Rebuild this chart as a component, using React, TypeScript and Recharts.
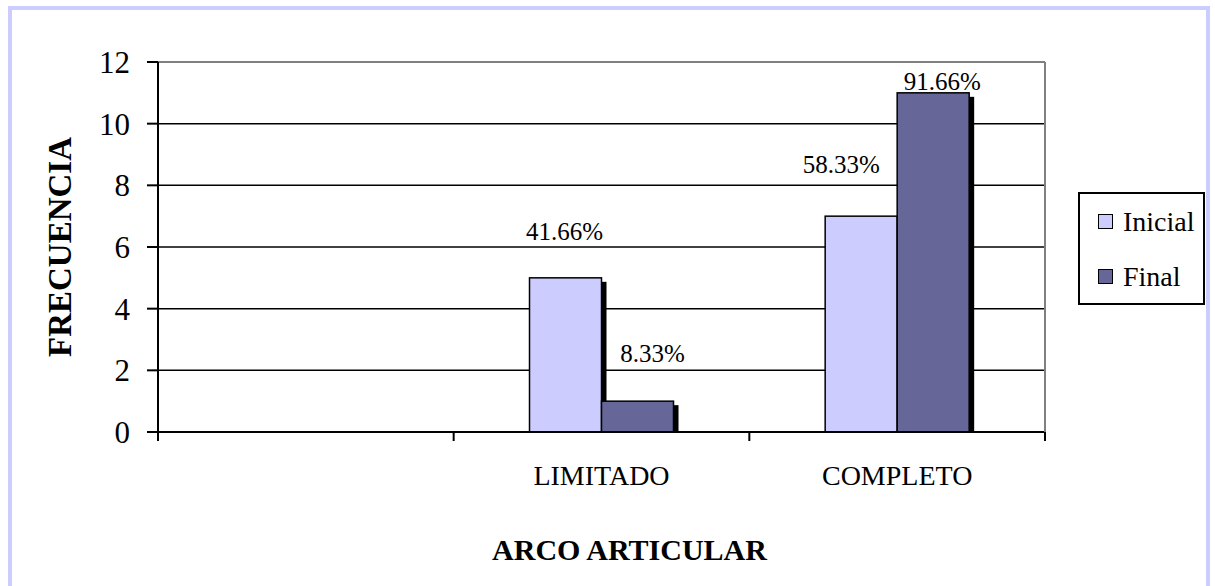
import React from "react";
import {
  BarChart,
  Bar,
  XAxis,
  YAxis,
  CartesianGrid,
  Legend,
  LabelList,
  ReferenceLine,
} from "recharts";

// Arco articular: frecuencia inicial y final
const categorias = ["", "LIMITADO", "COMPLETO"];
const series = ["Inicial", "Final"];
const inicial = [null, 5, 7];
const final = [null, 1, 11];
const porcentajeInicial = ["", "41.66%", "58.33%"];
const porcentajeFinal = ["", "8.33%", "91.66%"];
const ticksY = [0, 2, 4, 6, 8, 10, 12];

const data = categorias.map((arco, i) => ({
  arco,
  Inicial: inicial[i],
  Final: final[i],
  pctInicial: porcentajeInicial[i],
  pctFinal: porcentajeFinal[i],
}));

const FUENTE = "'Liberation Serif', 'Times New Roman', serif";
const ANCHO = 1215;
const ALTO = 586;
const MARGEN = { top: 62, right: 169, bottom: 0, left: 0 };
const ANCHO_EJE_Y = 158;
const ALTO_EJE_X = 154;
// ancho de cada categoría en el área de trazado
const BANDA = (ANCHO - MARGEN.right - 1 - MARGEN.left - ANCHO_EJE_Y) / categorias.length;

// desplazamiento de cada etiqueta respecto al centro superior de su barra
const ajusteInicial = [null, { dx: -1, dy: -38 }, { dx: -20, dy: -43 }];
const ajusteFinal = [null, { dx: 15, dy: -39 }, { dx: 9, dy: -3 }];

// barra con sombra negra desplazada
const BarraSombra = (props: any) => {
  const { x, y, width, height, fill } = props;
  if (!height || height <= 0) return <g />;
  return (
    <g>
      <rect x={x + 5} y={y + 4} width={width} height={height - 4} fill="#000" />
      <rect x={x} y={y} width={width} height={height} fill={fill} stroke="#000" strokeWidth={1.5} />
    </g>
  );
};

const etiquetaPct = (textos: string[], ajustes: any[]) => (props: any) => {
  const { x, y, width, value } = props;
  const a = ajustes[textos.indexOf(value)];
  if (!value || !a) return null;
  return (
    <text
      x={x + width / 2 + a.dx}
      y={y + a.dy}
      textAnchor="middle"
      fontSize={25}
      fontFamily={FUENTE}
      fill="#000"
    >
      {value}
    </text>
  );
};

const TickCategoria = (props: any) => {
  const { x, y, payload, index } = props;
  return (
    <g>
      {index === 0 && (
        <line x1={x - BANDA / 2} x2={x - BANDA / 2} y1={y} y2={y + 9} stroke="#000" strokeWidth={2} />
      )}
      <line x1={x + BANDA / 2} x2={x + BANDA / 2} y1={y} y2={y + 9} stroke="#000" strokeWidth={2} />
      <text x={x} y={y + 53} textAnchor="middle" fontSize={28} fontFamily={FUENTE} fill="#000">
        {payload.value}
      </text>
    </g>
  );
};

const TituloY = (props: any) => {
  const vb = props.viewBox || { x: 0, y: 62, width: 158, height: 370 };
  const cx = vb.x + 60;
  const cy = vb.y + vb.height / 2;
  return (
    <text
      x={cx}
      y={cy}
      transform={`rotate(-90, ${cx}, ${cy})`}
      textAnchor="middle"
      dominantBaseline="central"
      fontSize={33}
      fontWeight="bold"
      fontFamily={FUENTE}
      fill="#000"
    >
      FRECUENCIA
    </text>
  );
};

const TituloX = (props: any) => {
  const vb = props.viewBox || { x: 158, y: 432, width: 887, height: 154 };
  return (
    <text
      x={vb.x + vb.width / 2 + 28}
      y={vb.y + 128}
      textAnchor="middle"
      fontSize={30}
      fontWeight="bold"
      fontFamily={FUENTE}
      fill="#000"
    >
      ARCO ARTICULAR
    </text>
  );
};

const Leyenda = (props: any) => {
  const items = [...(props.payload || [])].sort(
    (a: any, b: any) => series.indexOf(a.value) - series.indexOf(b.value)
  );
  return (
    <div
      style={{
        boxSizing: "border-box",
        width: 127,
        height: 113,
        border: "2px solid #000",
        background: "#fff",
      }}
    >
      {items.map((item: any) => (
        <div
          key={item.value}
          style={{ display: "flex", alignItems: "center", height: 55, paddingLeft: 18 }}
        >
          <span
            style={{
              display: "inline-block",
              boxSizing: "border-box",
              width: 15,
              height: 15,
              border: "1.5px solid #000",
              background: item.color,
              marginRight: 10,
            }}
          />
          <span style={{ fontSize: 28, fontFamily: FUENTE, lineHeight: 1, color: "#000" }}>
            {item.value}
          </span>
        </div>
      ))}
    </div>
  );
};

export default function App() {
  return (
    <div style={{ position: "absolute", left: 0, top: 0, width: ANCHO, height: ALTO, background: "#fff" }}>
      <div
        style={{
          position: "absolute",
          left: 8,
          top: 6,
          width: 1202,
          height: 580,
          boxSizing: "border-box",
          border: "4px solid #ccccff",
          borderBottom: "none",
        }}
      />
      <div style={{ position: "absolute", left: 0, top: 0 }}>
        <BarChart
          width={ANCHO}
          height={ALTO}
          data={data}
          margin={MARGEN}
          barCategoryGap="25.65%"
          barGap={0}
        >
          <CartesianGrid horizontal vertical={false} stroke="#000" strokeWidth={1.5} />
          <XAxis
            dataKey="arco"
            height={ALTO_EJE_X}
            interval={0}
            tickSize={0}
            tickMargin={0}
            tickLine={false}
            axisLine={{ stroke: "#000", strokeWidth: 2 }}
            tick={<TickCategoria />}
            label={(p: any) => <TituloX {...p} />}
          />
          <YAxis
            width={ANCHO_EJE_Y}
            domain={[0, 12]}
            ticks={ticksY}
            interval={0}
            tickSize={11}
            tickMargin={17}
            tickLine={{ stroke: "#000", strokeWidth: 2 }}
            axisLine={{ stroke: "#000", strokeWidth: 2 }}
            tick={{ fill: "#000", fontSize: 31, fontFamily: FUENTE }}
            label={(p: any) => <TituloY {...p} />}
          />
          <YAxis
            yAxisId="borde"
            orientation="right"
            width={1}
            domain={[0, 12]}
            tick={false}
            tickLine={false}
            axisLine={{ stroke: "#808080", strokeWidth: 2 }}
          />
          <ReferenceLine y={12} stroke="#808080" strokeWidth={2} />
          <Legend
            layout="horizontal"
            verticalAlign="middle"
            content={(p: any) => <Leyenda {...p} />}
            wrapperStyle={{ position: "absolute", left: 1078, top: 192, width: 127 }}
          />
          <Bar dataKey="Inicial" fill="#ccccff" shape={BarraSombra} isAnimationActive={false}>
            <LabelList dataKey="pctInicial" content={etiquetaPct(porcentajeInicial, ajusteInicial)} />
          </Bar>
          <Bar dataKey="Final" fill="#666699" shape={BarraSombra} isAnimationActive={false}>
            <LabelList dataKey="pctFinal" content={etiquetaPct(porcentajeFinal, ajusteFinal)} />
          </Bar>
        </BarChart>
      </div>
    </div>
  );
}
